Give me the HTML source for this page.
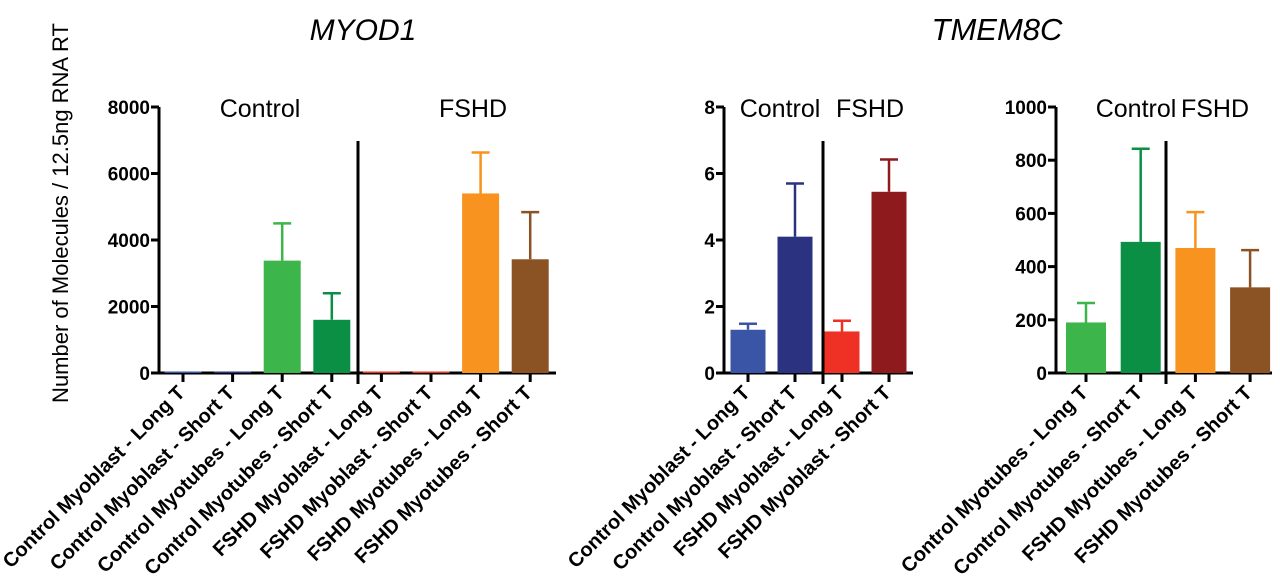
<!DOCTYPE html>
<html><head><meta charset="utf-8"><style>
body{margin:0;background:#fff;}
svg{display:block;font-family:"Liberation Sans",Arial,sans-serif;}
</style></head><body>
<svg id="fig" width="1280" height="581" viewBox="0 0 1280 581" xmlns="http://www.w3.org/2000/svg">
<text x="363" y="40" font-size="30" font-style="italic" text-anchor="middle">MYOD1</text>
<text x="997" y="40" font-size="31" font-style="italic" text-anchor="middle">TMEM8C</text>
<text transform="translate(68,213) rotate(-90)" font-size="22" text-anchor="middle">Number of Molecules / 12.5ng RNA RT</text>
<g id="c1"></g>
<g id="c2"></g>
<g id="c3"></g>
</svg>
<script>
const c1Labels=["Control Myoblast - Long T","Control Myoblast - Short T","Control Myotubes - Long T","Control Myotubes - Short T","FSHD Myoblast - Long T","FSHD Myoblast - Short T","FSHD Myotubes - Long T","FSHD Myotubes - Short T"];
const c1Values=[8,40,3380,1600,8,30,5400,3420];
const c1Errors=[0,0,4500,2400,0,0,6630,4840];
const c1Ticks=[0,2000,4000,6000,8000];
const c2Labels=["Control Myoblast - Long T","Control Myoblast - Short T","FSHD Myoblast - Long T","FSHD Myoblast - Short T"];
const c2Values=[1.3,4.1,1.25,5.45];
const c2Errors=[1.48,5.7,1.57,6.42];
const c2Ticks=[0,2,4,6,8];
const c3Labels=["Control Myotubes - Long T","Control Myotubes - Short T","FSHD Myotubes - Long T","FSHD Myotubes - Short T"];
const c3Values=[190,493,470,322];
const c3Errors=[263,843,605,462];
const c3Ticks=[0,200,400,600,800,1000];

const NS="http://www.w3.org/2000/svg";
function mk(p,t,a){const e=document.createElementNS(NS,t);for(const k in a)e.setAttribute(k,a[k]);p.appendChild(e);return e;}
function chart(g,o){
  const y0=373,y1=107;
  const max=o.ticks[o.ticks.length-1];
  const ys=v=>y0-(v/max)*(y0-y1);
  const xs=i=>o.x0+i*o.step;
  let ax=mk(g,'line',{x1:o.ax,y1:y1,x2:o.ax,y2:y0,stroke:'#000','stroke-width':3});
  
  
  let xa=mk(g,'line',{x1:o.ax-8,y1:y0,x2:o.axEnd,y2:y0,stroke:'#000','stroke-width':3});
  
  
  o.ticks.forEach(t=>{
    const y=ys(t);
    mk(g,'line',{x1:o.ax-8,y1:y,x2:o.ax,y2:y,stroke:'#000','stroke-width':3});
    const tx=mk(g,'text',{x:o.ax-9,y:y+7,'font-size':19,'font-weight':'bold','text-anchor':'end'});
    tx.textContent=t;
    
    
  });
  let dv=mk(g,'line',{x1:o.div,y1:141,x2:o.div,y2:384,stroke:'#000','stroke-width':3});
  
  
  o.groups.forEach(gr=>{
    const t=mk(g,'text',{x:gr[1],y:117,'font-size':25,'text-anchor':'middle'});
    t.textContent=gr[0];
    
    
  });
  o.values.forEach((v,i)=>{
    const cx=xs(i),col=o.colors[i];
    if(o.errors[i]>v){
      const e=mk(g,'path',{d:`M${cx},${ys(v)} V${ys(o.errors[i])} M${cx-9},${ys(o.errors[i])} H${cx+9}`,stroke:col,'stroke-width':2.5,fill:'none'});
      
      
    }
    const h=Math.max(y0-ys(v),1.5);
    const r=mk(g,'rect',{x:cx-o.bw/2,y:y0-h,width:o.bw,height:h,fill:col});
    
    
    mk(g,'line',{x1:cx,y1:y0,x2:cx,y2:y0+9,stroke:'#000','stroke-width':3});
    const l=mk(g,'text',{transform:`translate(${cx+3},${y0+21}) rotate(-45)`,'font-size':20,'font-weight':'bold','text-anchor':'end'});
    l.textContent=o.labels[i];
    
    
  });
}
chart(document.getElementById('c1'),{ax:159,axEnd:556,x0:183,step:49.6,bw:37,div:358,ticks:c1Ticks,values:c1Values,errors:c1Errors,labels:c1Labels,
  colors:['#3a55a5','#2b3381','#3cb54a','#0b8f45','#ee3124','#ee3124','#f7931e','#8b5224'],groups:[['Control',260],['FSHD',473]]});
chart(document.getElementById('c2'),{ax:724,axEnd:913,x0:748,step:47,bw:35,div:823,ticks:c2Ticks,values:c2Values,errors:c2Errors,labels:c2Labels,
  colors:['#3a55a5','#2b3381','#ee3124','#8e1a1e'],groups:[['Control',780],['FSHD',870]]});
chart(document.getElementById('c3'),{ax:1056,axEnd:1272,x0:1086,step:54.7,bw:40,div:1166,ticks:c3Ticks,values:c3Values,errors:c3Errors,labels:c3Labels,
  colors:['#3cb54a','#0b8f45','#f7931e','#8b5224'],groups:[['Control',1136],['FSHD',1215]]});
</script>
</body></html>
